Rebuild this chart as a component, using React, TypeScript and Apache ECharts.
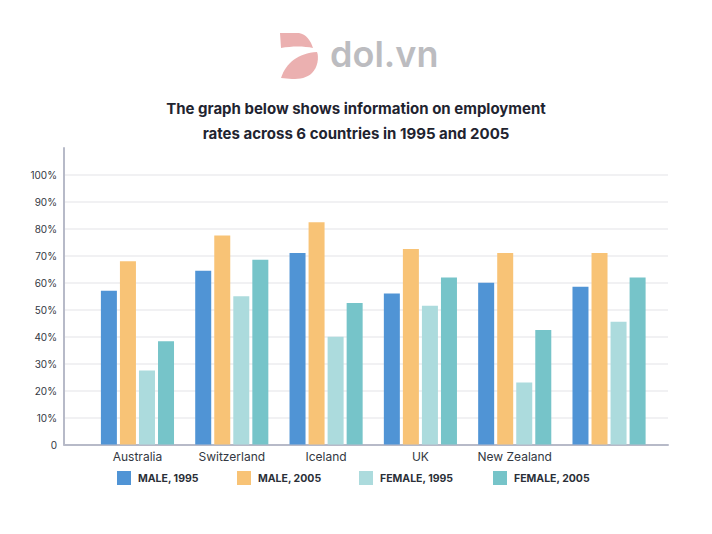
import React, { useEffect, useRef } from "react";
import * as echarts from "echarts";

const categories = ["Australia", "Switzerland", "Iceland", "UK", "New Zealand", ""];
const seriesNames = ["MALE, 1995", "MALE, 2005", "FEMALE, 1995", "FEMALE, 2005"];
const male1995 = [57, 64.5, 71, 56, 60, 58.5];
const male2005 = [68, 77.5, 82.5, 72.5, 71, 71];
const female1995 = [27.5, 55, 40, 51.5, 23, 45.5];
const female2005 = [38.3, 68.5, 52.5, 62, 42.5, 62];
const seriesColors = ["#5094d5", "#f8c376", "#acdbdd", "#76c4c9"];
const legendLefts = [117, 237, 359, 493];
const titleText = "The graph below shows information on employment\nrates across 6 countries in 1995 and 2005";

const FONT = "Inter, 'Noto Sans', sans-serif";

const topPiece = "M0,0 L19,0 C26,1 31,8 33,15 C24,13 12,13 1,15 Z";
const bottomPiece = "M1,45 C6,30 18,20 37,19 C39,24 38,34 32,40 C27,45 20,46 12,46 Z";
let registered = false;
function registerShapes() {
  if (registered) return;
  registered = true;
  echarts.graphic.registerShape("logoTop", echarts.graphic.extendPath(topPiece, {}));
  echarts.graphic.registerShape("logoBottom", echarts.graphic.extendPath(bottomPiece, {}));
}

export default function App() {
  const ref = useRef<HTMLDivElement>(null);
  useEffect(() => {
    if (!ref.current) return;
    registerShapes();
    const chart = echarts.init(ref.current, undefined, { renderer: "svg" });
    const values = [male1995, male2005, female1995, female2005];
    const axisColor = "#b7bac8";
    const option: any = {
      animation: false,
      backgroundColor: "#ffffff",
      textStyle: { fontFamily: FONT },
      title: {
        text: titleText,
        left: "center",
        top: 91,
        textStyle: {
          fontFamily: FONT,
          fontSize: 15,
          fontWeight: "bold",
          lineHeight: 25,
          color: "#1f2430",
        },
      },
      graphic: [
        { type: "logoTop", x: 280, y: 33, style: { fill: "#ebb0b0" } },
        { type: "logoBottom", x: 280, y: 33, style: { fill: "#ebb0b0" } },
        {
          type: "text",
          x: 330,
          y: 54,
          style: {
            text: "dol.vn",
            font: `600 36px ${FONT}`,
            fill: "#bcbcc0",
            textAlign: "left",
            verticalAlign: "middle",
          },
        },
      ],
      legend: seriesNames.map((name, i) => ({
        data: [name],
        left: legendLefts[i],
        top: 471,
        padding: 0,
        itemWidth: 14,
        itemHeight: 14,
        icon: "rect",
        textStyle: {
          fontFamily: FONT,
          fontSize: 10.5,
          fontWeight: "bold",
          color: "#2b2f38",
          padding: [0, 0, 0, 2],
        },
      })),
      grid: [
        { left: 64, right: 44, top: 148, bottom: 89.5 },
        { left: 90.3, right: 55.8, top: 148, bottom: 89.5 },
      ],
      xAxis: [
        {
          type: "value",
          gridIndex: 0,
          min: 0,
          max: 1,
          axisLine: { show: true, lineStyle: { color: axisColor, width: 2 } },
          axisTick: { show: false },
          axisLabel: { show: false },
          splitLine: { show: false },
        },
        {
          type: "category",
          gridIndex: 1,
          data: categories,
          axisLine: { show: false },
          axisTick: { show: false },
          axisLabel: {
            interval: 0,
            fontFamily: FONT,
            fontSize: 12,
            color: "#333842",
            margin: 6,
          },
        },
      ],
      yAxis: [
        {
          type: "value",
          gridIndex: 0,
          min: 0,
          max: 110,
          interval: 10,
          axisLine: { show: true, lineStyle: { color: axisColor, width: 2 } },
          axisTick: { show: false },
          axisLabel: {
            fontFamily: FONT,
            fontSize: 10,
            color: "#333842",
            margin: 7,
            formatter: (v: number) => (v === 110 ? "" : v === 0 ? "0" : `${v}%`),
          },
          splitLine: {
            show: true,
            showMaxLine: false,
            showMinLine: false,
            lineStyle: { color: "#f1f1f3", width: 2 },
          },
        },
        {
          type: "value",
          gridIndex: 1,
          min: 0,
          max: 110,
          interval: 10,
          show: false,
        },
      ],
      series: seriesNames.map((name, i) => ({
        name,
        type: "bar",
        xAxisIndex: 1,
        yAxisIndex: 1,
        data: values[i],
        barWidth: 16,
        barGap: "19%",
        itemStyle: { color: seriesColors[i] },
      })),
    };
    chart.setOption(option);
    return () => chart.dispose();
  }, []);
  return (
    <div
      ref={ref}
      style={{ position: "fixed", left: 0, top: 0, width: 712, height: 534 }}
    />
  );
}
